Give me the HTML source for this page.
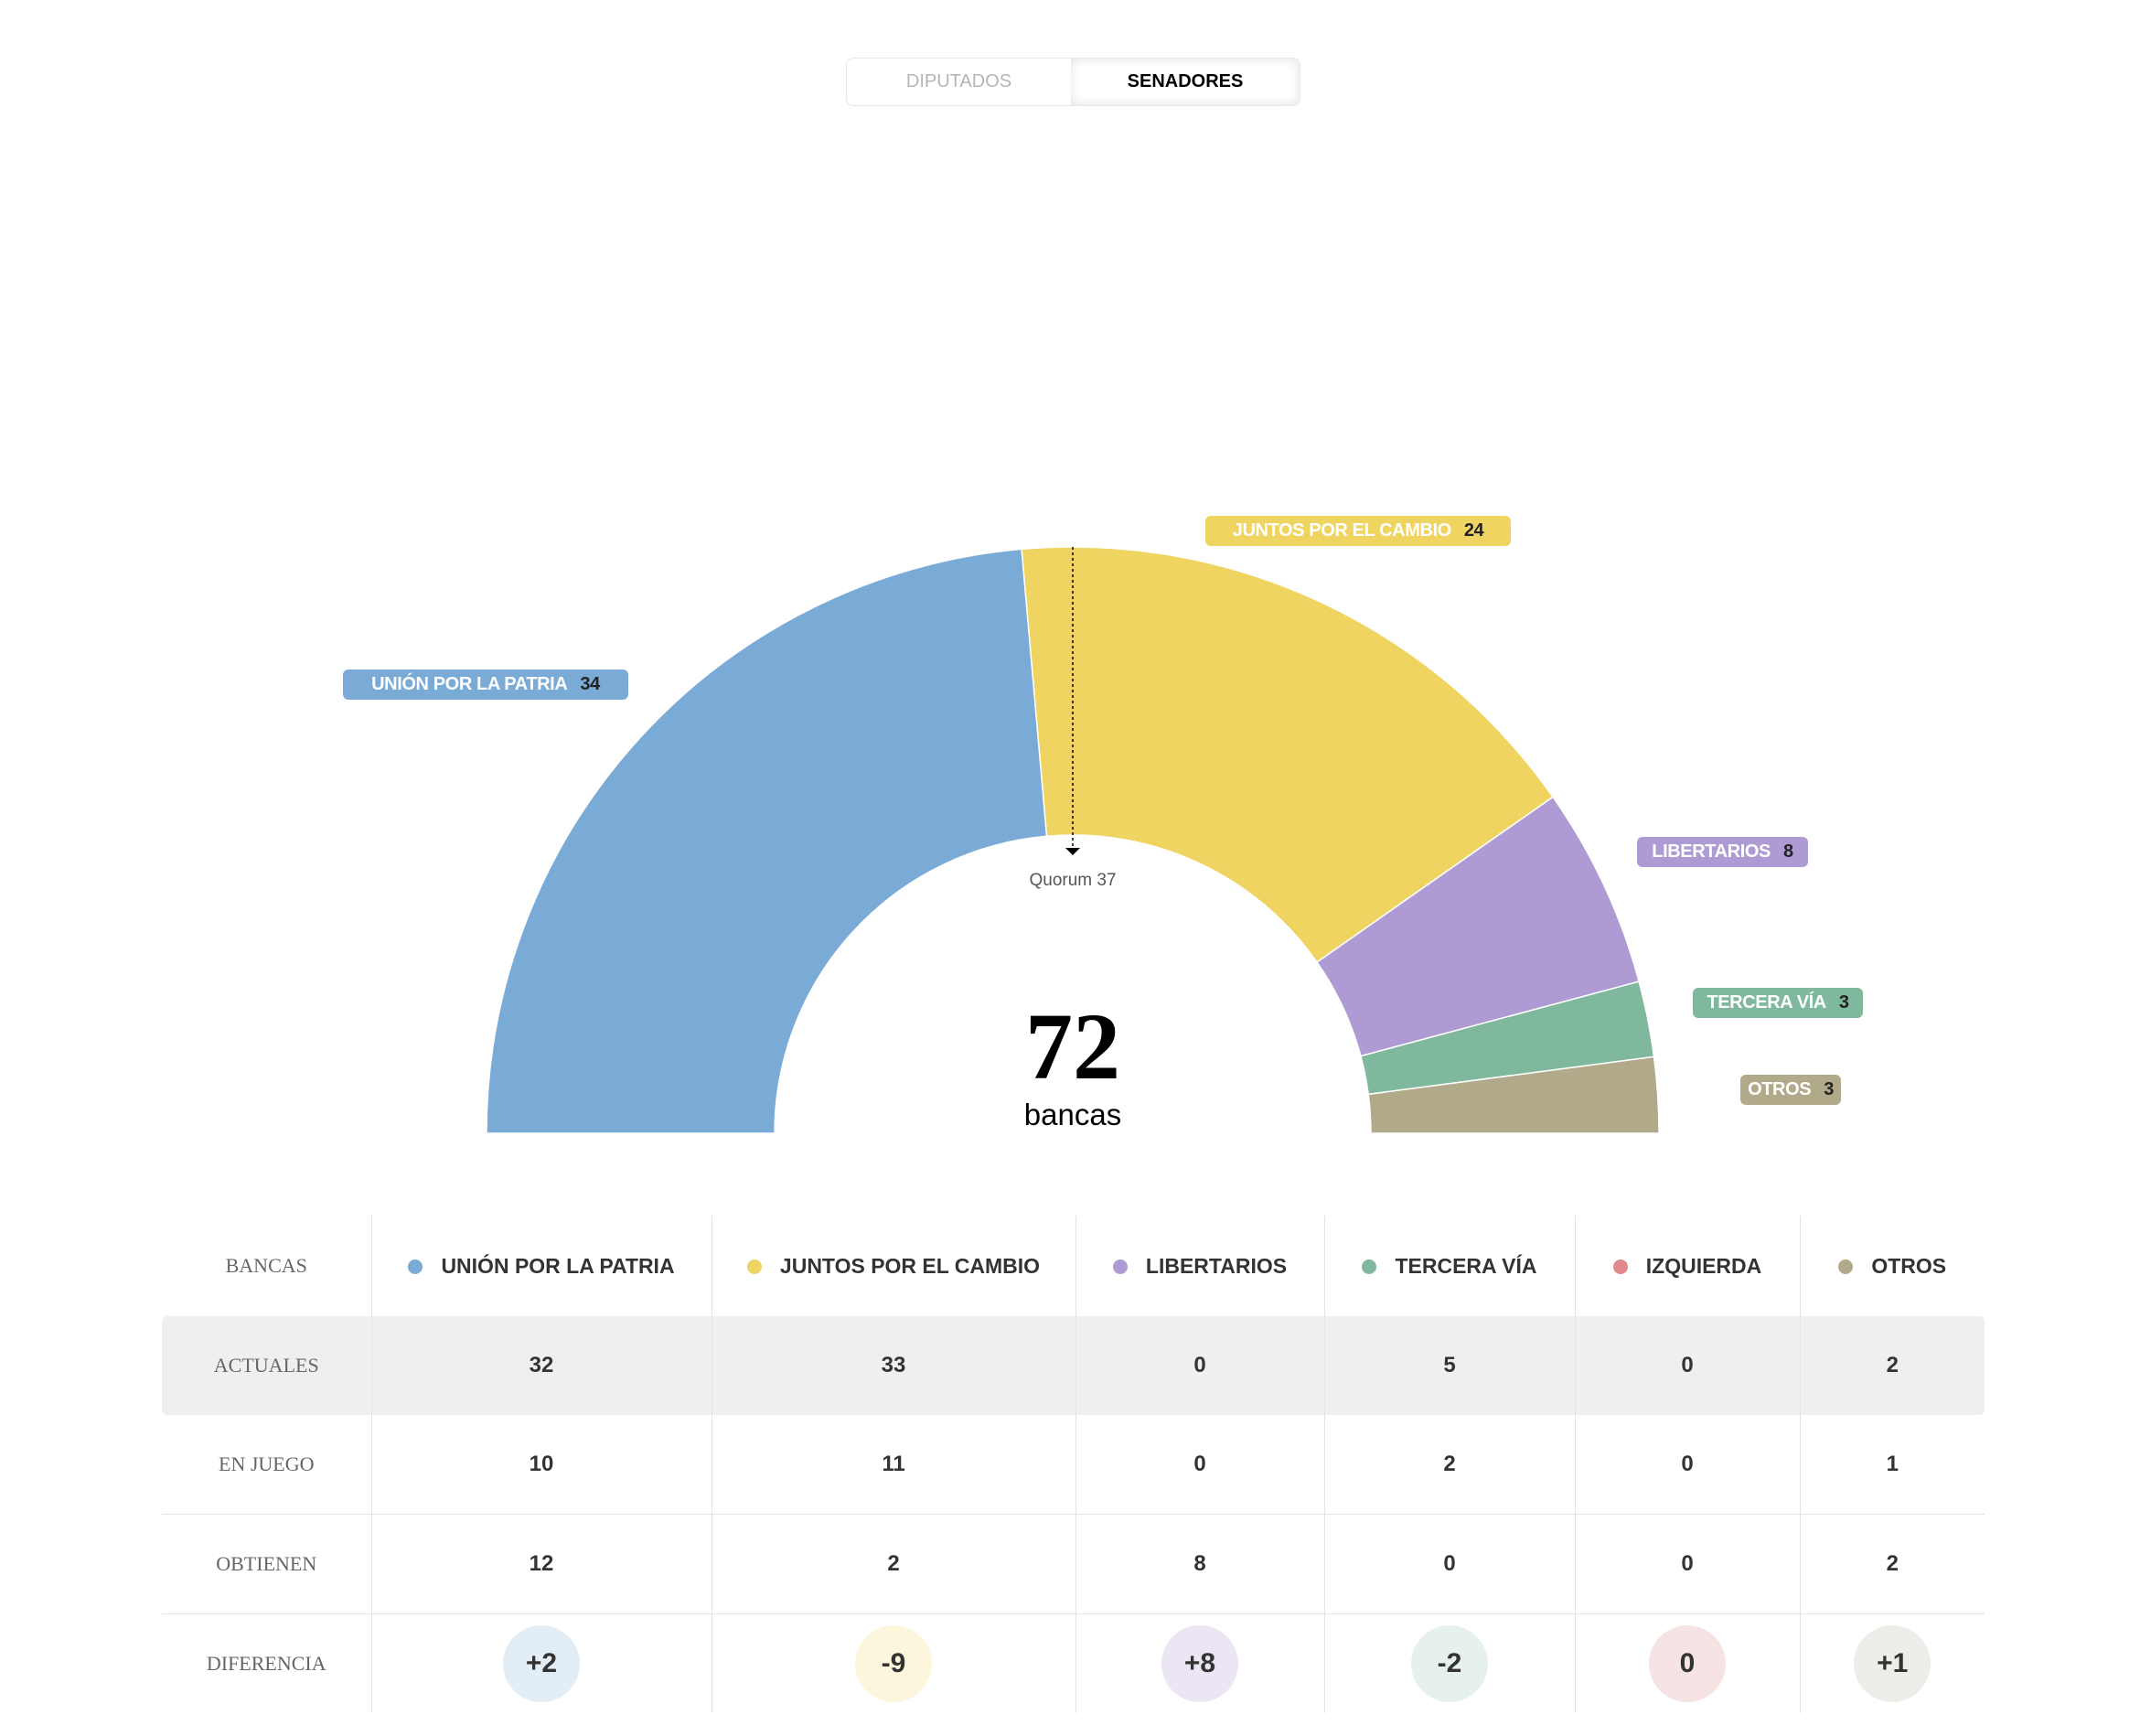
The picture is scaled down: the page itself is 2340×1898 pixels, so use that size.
<!DOCTYPE html>
<html><head><meta charset="utf-8">
<style>
html,body{margin:0;padding:0;background:#fff;}
body{width:2340px;height:1898px;position:relative;overflow:hidden;font-family:"Liberation Sans",sans-serif;}
.toggle{position:absolute;left:925px;top:63px;width:497px;height:53px;border:1px solid #e8e8e8;border-radius:8px;box-sizing:border-box;}
.tab{position:absolute;top:0;height:51px;line-height:51px;text-align:center;font-size:20px;}
.tab1{left:0;width:245px;color:#b5b5b5;}
.tab2{left:245px;width:250px;color:#000;font-weight:bold;box-shadow:inset 0 0 12px rgba(0,0,0,0.12);border-radius:0 8px 8px 0;}
svg{position:absolute;left:0;top:0;}
.pill{position:absolute;height:33px;line-height:33px;border-radius:6px;color:#fff;font-weight:bold;font-size:20px;letter-spacing:-0.4px;text-align:center;white-space:nowrap;}
.pill b{color:#222;margin-left:14px;}
.quorum{position:absolute;left:1073px;top:952px;width:200px;text-align:center;font-size:19px;color:#555;}
.big{position:absolute;left:1023px;top:1090px;width:300px;text-align:center;font-family:"Liberation Serif",serif;font-weight:bold;font-size:104px;line-height:110px;}
.bancas{position:absolute;left:1023px;top:1200px;width:300px;text-align:center;font-size:33px;}
table{position:absolute;left:177px;top:1329px;width:1993px;border-collapse:collapse;}
td{height:108px;text-align:center;font-weight:bold;font-size:24px;color:#333;border-left:1px solid #e3e3e3;padding:0;}
td:first-child{border-left:none;font-family:"Liberation Serif",serif;font-weight:normal;font-size:22px;color:#666;}
tr.r td{border-top:1px solid #e3e3e3;}
tr.gray td{background:#efefef;}
th{height:108px;font-size:23px;color:#333;font-weight:bold;border-left:1px solid #e3e3e3;white-space:nowrap;}
th:first-child{border-left:none;font-family:"Liberation Serif",serif;font-weight:normal;font-size:22px;color:#666;}
.dot{display:inline-block;width:16px;height:16px;border-radius:50%;margin-right:20px;vertical-align:-1px;}
.circ{display:inline-block;width:84px;height:84px;line-height:84px;border-radius:50%;font-size:30px;}
</style></head>
<body>
<div class="toggle">
  <div class="tab tab1">DIPUTADOS</div>
  <div class="tab tab2">SENADORES</div>
</div>

<svg id="chart" width="2340" height="1898"></svg>

<div class="pill" style="left:375px;top:732px;width:312px;background:#7aaad6">UNIÓN POR LA PATRIA<b>34</b></div>
<div class="pill" style="left:1318px;top:564px;width:334px;background:#f0d462">JUNTOS POR EL CAMBIO<b>24</b></div>
<div class="pill" style="left:1790px;top:915px;width:187px;background:#ae9bd4">LIBERTARIOS<b>8</b></div>
<div class="pill" style="left:1851px;top:1080px;width:186px;background:#80b89e">TERCERA VÍA<b>3</b></div>
<div class="pill" style="left:1903px;top:1175px;width:110px;background:#b0aa8a">OTROS<b>3</b></div>

<div class="quorum">Quorum 37</div>
<div class="big">72</div>
<div class="bancas">bancas</div>

<table>
<colgroup><col style="width:229px"><col style="width:372px"><col style="width:398px"><col style="width:272px"><col style="width:274px"><col style="width:246px"><col style="width:202px"></colgroup>
<tr>
<th>BANCAS</th>
<th><span class="dot" style="background:#7aaad6"></span>UNIÓN POR LA PATRIA</th>
<th><span class="dot" style="background:#f0d462"></span>JUNTOS POR EL CAMBIO</th>
<th><span class="dot" style="background:#ae9bd4"></span>LIBERTARIOS</th>
<th><span class="dot" style="background:#80b89e"></span>TERCERA VÍA</th>
<th><span class="dot" style="background:#e08a8a"></span>IZQUIERDA</th>
<th><span class="dot" style="background:#b0aa8a"></span>OTROS</th>
</tr>
<tr class="gray"><td style="border-radius:6px 0 0 6px">ACTUALES</td><td>32</td><td>33</td><td>0</td><td>5</td><td>0</td><td style="border-radius:0 6px 6px 0">2</td></tr>
<tr><td>EN JUEGO</td><td>10</td><td>11</td><td>0</td><td>2</td><td>0</td><td>1</td></tr>
<tr class="r"><td>OBTIENEN</td><td>12</td><td>2</td><td>8</td><td>0</td><td>0</td><td>2</td></tr>
<tr class="r"><td>DIFERENCIA</td>
<td><span class="circ" style="background:#e3edf6">+2</span></td>
<td><span class="circ" style="background:#fcf6dc">-9</span></td>
<td><span class="circ" style="background:#ebe5f4">+8</span></td>
<td><span class="circ" style="background:#e6f1ec">-2</span></td>
<td><span class="circ" style="background:#f6e3e3">0</span></td>
<td><span class="circ" style="background:#ededea">+1</span></td>
</tr>
</table>

<script>
const parties = ["union-por-la-patria","juntos-por-el-cambio","libertarios","tercera-via","otros"];
const seats = [34, 24, 8, 3, 3];
const colors = ["#7aaad6","#f0d462","#ae9bd4","#80b89e","#b0aa8a"];
const quorum = 37;

const svg = document.getElementById('chart');
const NS = "http://www.w3.org/2000/svg";
const cx = 1173, cy = 1239, R = 641, r = 326;
const total = seats.reduce((a,b)=>a+b,0);
function ang(v){ return Math.PI - v/total*Math.PI; }
function pt(a,rad){ return [cx + rad*Math.cos(a), cy - rad*Math.sin(a)]; }
let acc = 0;
seats.forEach((s,i)=>{
  const a0 = ang(acc), a1 = ang(acc+s);
  const p0 = pt(a0,R), p1 = pt(a1,R), p2 = pt(a1,r), p3 = pt(a0,r);
  const large = (a0-a1) > Math.PI ? 1 : 0;
  const d = `M${p0[0]},${p0[1]} A${R},${R} 0 ${large} 1 ${p1[0]},${p1[1]} L${p2[0]},${p2[1]} A${r},${r} 0 ${large} 0 ${p3[0]},${p3[1]} Z`;
  const path = document.createElementNS(NS,'path');
  path.setAttribute('d', d);
  path.setAttribute('fill', colors[i]);
  path.setAttribute('stroke', '#fff');
  path.setAttribute('stroke-width', '1.5');
  
  
  svg.appendChild(path);
  acc += s;
});
// quorum marker
const qa = ang(quorum - 0.5);
const qx = cx + (R)*Math.cos(Math.PI/2) ; // centered at top
const line = document.createElementNS(NS,'line');
line.setAttribute('x1', cx); line.setAttribute('x2', cx);
line.setAttribute('y1', cy - R); line.setAttribute('y2', cy - r + 14);
line.setAttribute('stroke', '#000'); line.setAttribute('stroke-width', '1.5');
line.setAttribute('stroke-dasharray', '3,3');


svg.appendChild(line);
const arrow = document.createElementNS(NS,'path');
arrow.setAttribute('d', `M${cx-8},${cy-r+14} L${cx+8},${cy-r+14} L${cx},${cy-r+22} Z`);
arrow.setAttribute('fill', '#000');


svg.appendChild(arrow);
</script>
</body></html>
